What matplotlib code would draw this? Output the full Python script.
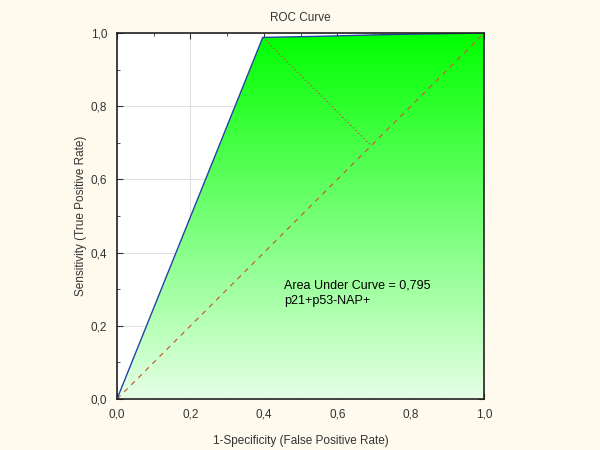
import matplotlib.pyplot as plt
import numpy as np
from matplotlib.ticker import MultipleLocator, FuncFormatter
from matplotlib.colors import LinearSegmentedColormap

plt.rcParams['font.family'] = ['Liberation Sans', 'DejaVu Sans']

# ROC curve points (1-specificity, sensitivity)
fpr = [0.0, 0.397, 0.55, 0.75, 1.0]
tpr = [0.0, 0.988, 0.991, 0.996, 1.0]
auc_text = 'Area Under Curve = 0,795'
marker_name = 'p21+p53-NAP+'

bg = '#fefaee'
fig = plt.figure(figsize=(6, 4.5), dpi=100, facecolor=bg)
ax = fig.add_axes([0.195, 0.1133, 0.612, 0.8133])
ax.set_facecolor('white')

# gradient fill under the curve
grad = np.linspace(0, 1, 256).reshape(-1, 1)
cmap = LinearSegmentedColormap.from_list('g', ['#e6ffe6', '#00ff00'])
img = ax.imshow(grad, extent=[0, 1, 0, 1], origin='lower', cmap=cmap,
                aspect='auto', zorder=2)
poly = ax.fill(fpr + [1.0], tpr + [0.0], facecolor='none', edgecolor='none')[0]
img.set_clip_path(poly)

ax.plot(fpr, tpr, color='#2443a8', lw=1.0, zorder=4)
ax.plot([0, 1], [0, 1], color='#c8603a', lw=0.9, ls=(0, (4, 4)), zorder=3)
mid = (fpr[1] + tpr[1]) / 2
ax.plot([fpr[1], mid], [tpr[1], mid], color='#c0504a', lw=0.9, ls=(0, (1, 2)), zorder=3)

ax.text(0.455, 0.288, auc_text + '\n' + marker_name, fontsize=9, va='center',
        ha='left', linespacing=1.4, zorder=5)

ax.set_xlim(0, 1)
ax.set_ylim(0, 1)
ax.xaxis.set_major_locator(MultipleLocator(0.2))
ax.yaxis.set_major_locator(MultipleLocator(0.2))
ax.xaxis.set_minor_locator(MultipleLocator(0.1))
ax.yaxis.set_minor_locator(MultipleLocator(0.1))
fmt = FuncFormatter(lambda v, p: ('%.1f' % v).replace('.', ','))
ax.xaxis.set_major_formatter(fmt)
ax.yaxis.set_major_formatter(fmt)
ax.tick_params(which='both', direction='in', top=True, right=True, labelsize=8.5,
               color='#333333', labelcolor='#333333')
ax.tick_params(which='major', length=4, pad=7)
ax.tick_params(which='minor', length=2)
ax.grid(True, which='major', color='#dddddd', lw=0.7, zorder=1)
ax.set_axisbelow(True)
for s in ax.spines.values():
    s.set_color('#222222')
    s.set_linewidth(1.2)
    s.set_zorder(6)

ax.set_title('ROC Curve', fontsize=8.5, pad=9, color='#333333')
ax.set_xlabel('1-Specificity (False Positive Rate)', fontsize=8.5, labelpad=10,
              color='#333333')
ax.set_ylabel('Sensitivity (True Positive Rate)', fontsize=8.5, labelpad=3,
              color='#333333')

fig.savefig('out.png', dpi=100, facecolor=bg)
